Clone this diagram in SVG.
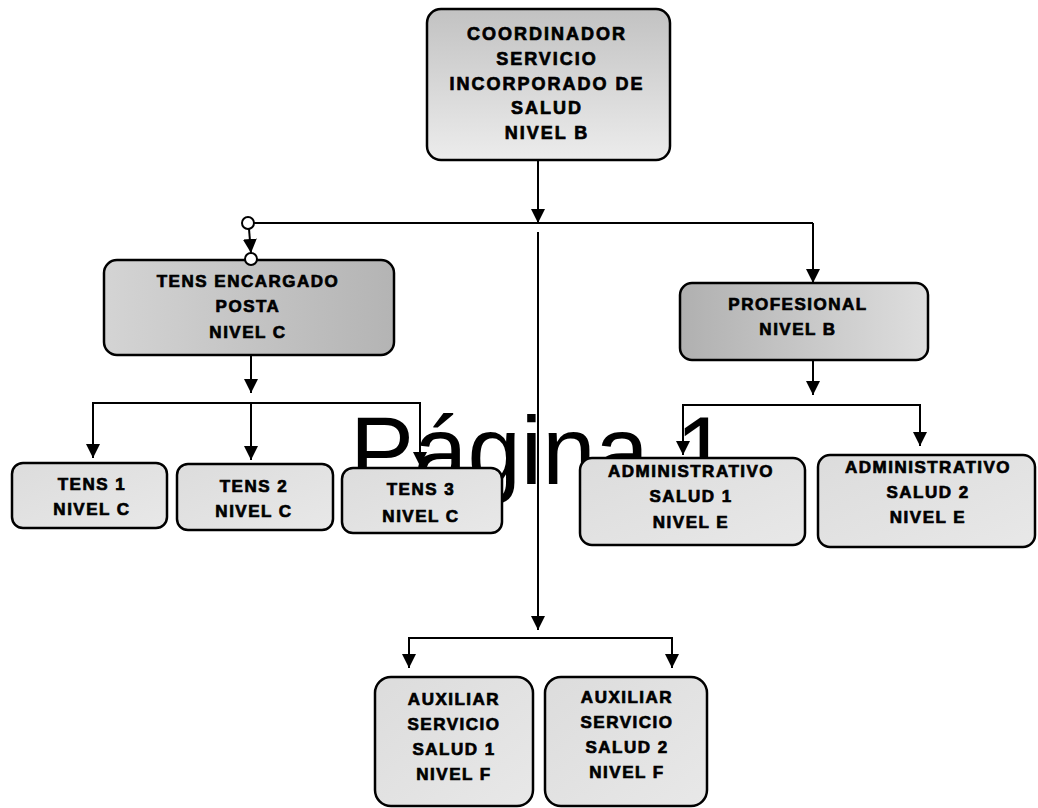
<svg xmlns="http://www.w3.org/2000/svg" width="1038" height="808" viewBox="0 0 1038 808">
<defs>
<linearGradient id="gTop" x1="0" y1="0" x2="0" y2="1"><stop offset="0" stop-color="#c2c2c2"/><stop offset="1" stop-color="#ececec"/></linearGradient>
<linearGradient id="gDarkR" x1="0" y1="0" x2="1" y2="0"><stop offset="0" stop-color="#d4d4d4"/><stop offset="1" stop-color="#b4b4b4"/></linearGradient>
<linearGradient id="gDarkL" x1="0" y1="0" x2="1" y2="0"><stop offset="0" stop-color="#b0b0b0"/><stop offset="1" stop-color="#dedede"/></linearGradient>
<linearGradient id="gLight" x1="0" y1="0" x2="1" y2="1"><stop offset="0" stop-color="#dcdcdc"/><stop offset="1" stop-color="#e8e8e8"/></linearGradient>
<marker id="arr" markerUnits="userSpaceOnUse" markerWidth="14" markerHeight="14" viewBox="0 0 14 14" refX="14" refY="7" orient="auto">
<path d="M0,0 L14,7 L0,14 Z" fill="#000"/>
</marker>
</defs>
<style>
.box{stroke:#000;stroke-width:2.5}
.ln{stroke:#000;stroke-width:2;fill:none}
.t{font-family:"Liberation Sans",Arial,sans-serif;font-weight:bold;font-size:17px;letter-spacing:1.5px;text-anchor:middle;fill:#000;stroke:#000;stroke-width:0.7}
.tt{font-size:18px;letter-spacing:2px}
.wm{font-family:"Liberation Sans",Arial,sans-serif;font-size:96px;fill:#000}
</style>
<rect width="1038" height="808" fill="#fff"/>
<g id="connectors">
<line class="ln" x1="538" y1="160" x2="538" y2="223" marker-end="url(#arr)"/>
<line class="ln" x1="254" y1="223" x2="813" y2="223"/>
<line class="ln" x1="813" y1="223" x2="813" y2="283" marker-end="url(#arr)"/>
<line class="ln" x1="249" y1="229" x2="251" y2="253" marker-end="url(#arr)"/>
<line class="ln" x1="538" y1="232" x2="538" y2="630" marker-end="url(#arr)"/>
<polyline class="ln" points="409,650 409,638 672,638 672,650"/>
<line class="ln" x1="409" y1="645" x2="409" y2="668" marker-end="url(#arr)"/>
<line class="ln" x1="672" y1="645" x2="672" y2="668" marker-end="url(#arr)"/>
<line class="ln" x1="251" y1="355" x2="251" y2="393" marker-end="url(#arr)"/>
<polyline class="ln" points="93,420 93,403 420,403 420,420"/>
<line class="ln" x1="251" y1="403" x2="251" y2="460" marker-end="url(#arr)"/>
<line class="ln" x1="93" y1="415" x2="93" y2="458" marker-end="url(#arr)"/>
<line class="ln" x1="420" y1="415" x2="420" y2="466" marker-end="url(#arr)"/>
<line class="ln" x1="813" y1="360" x2="813" y2="395" marker-end="url(#arr)"/>
<polyline class="ln" points="683,420 683,405 920,405 920,420"/>
<line class="ln" x1="683" y1="415" x2="683" y2="455" marker-end="url(#arr)"/>
<line class="ln" x1="920" y1="415" x2="920" y2="446" marker-end="url(#arr)"/>
<circle cx="248" cy="223" r="6" fill="#fff" stroke="#000" stroke-width="2"/>
</g>
<text class="wm" x="350" y="484">Página 1</text>
<g id="n-coordinador">
<rect class="box" x="427" y="9" width="243" height="151" rx="14" fill="url(#gTop)"/>
<text class="t tt" x="547" y="40">COORDINADOR</text>
<text class="t tt" x="547" y="65">SERVICIO</text>
<text class="t tt" x="547" y="90">INCORPORADO DE</text>
<text class="t tt" x="547" y="114">SALUD</text>
<text class="t tt" x="547" y="139">NIVEL B</text>
</g>
<g id="n-tens-encargado">
<rect class="box" x="104" y="260" width="290" height="95" rx="13" fill="url(#gDarkR)"/>
<circle cx="251" cy="259" r="6" fill="#fff" stroke="#000" stroke-width="2"/>
<text class="t" x="248" y="287">TENS ENCARGADO</text>
<text class="t" x="248" y="312">POSTA</text>
<text class="t" x="248" y="338">NIVEL C</text>
</g>
<g id="n-profesional">
<rect class="box" x="680" y="283" width="248" height="77" rx="12" fill="url(#gDarkL)"/>
<text class="t" x="798" y="310">PROFESIONAL</text>
<text class="t" x="798" y="335">NIVEL B</text>
</g>
<g id="n-tens1">
<rect class="box" x="12" y="463" width="155" height="65" rx="11" fill="url(#gLight)"/>
<text class="t" x="92" y="490">TENS 1</text>
<text class="t" x="92" y="515">NIVEL C</text>
</g>
<g id="n-tens2">
<rect class="box" x="177" y="464" width="156" height="66" rx="11" fill="url(#gLight)"/>
<text class="t" x="254" y="492">TENS 2</text>
<text class="t" x="254" y="517">NIVEL C</text>
</g>
<g id="n-tens3">
<rect class="box" x="342" y="468" width="160" height="65" rx="11" fill="url(#gLight)"/>
<text class="t" x="421" y="495">TENS 3</text>
<text class="t" x="421" y="522">NIVEL C</text>
</g>
<g id="n-admin1">
<rect class="box" x="580" y="458" width="225" height="87" rx="12" fill="url(#gLight)"/>
<text class="t" x="691" y="477">ADMINISTRATIVO</text>
<text class="t" x="691" y="502">SALUD 1</text>
<text class="t" x="691" y="528">NIVEL E</text>
</g>
<g id="n-admin2">
<rect class="box" x="818" y="455" width="217" height="92" rx="12" fill="url(#gLight)"/>
<text class="t" x="928" y="473">ADMINISTRATIVO</text>
<text class="t" x="928" y="498">SALUD 2</text>
<text class="t" x="928" y="523">NIVEL E</text>
</g>
<g id="n-aux1">
<rect class="box" x="375" y="677" width="158" height="129" rx="16" fill="url(#gLight)"/>
<text class="t" x="454" y="705">AUXILIAR</text>
<text class="t" x="454" y="730">SERVICIO</text>
<text class="t" x="454" y="755">SALUD 1</text>
<text class="t" x="454" y="780">NIVEL F</text>
</g>
<g id="n-aux2">
<rect class="box" x="545" y="677" width="162" height="129" rx="16" fill="url(#gLight)"/>
<text class="t" x="627" y="703">AUXILIAR</text>
<text class="t" x="627" y="728">SERVICIO</text>
<text class="t" x="627" y="753">SALUD 2</text>
<text class="t" x="627" y="778">NIVEL F</text>
</g>
</svg>
